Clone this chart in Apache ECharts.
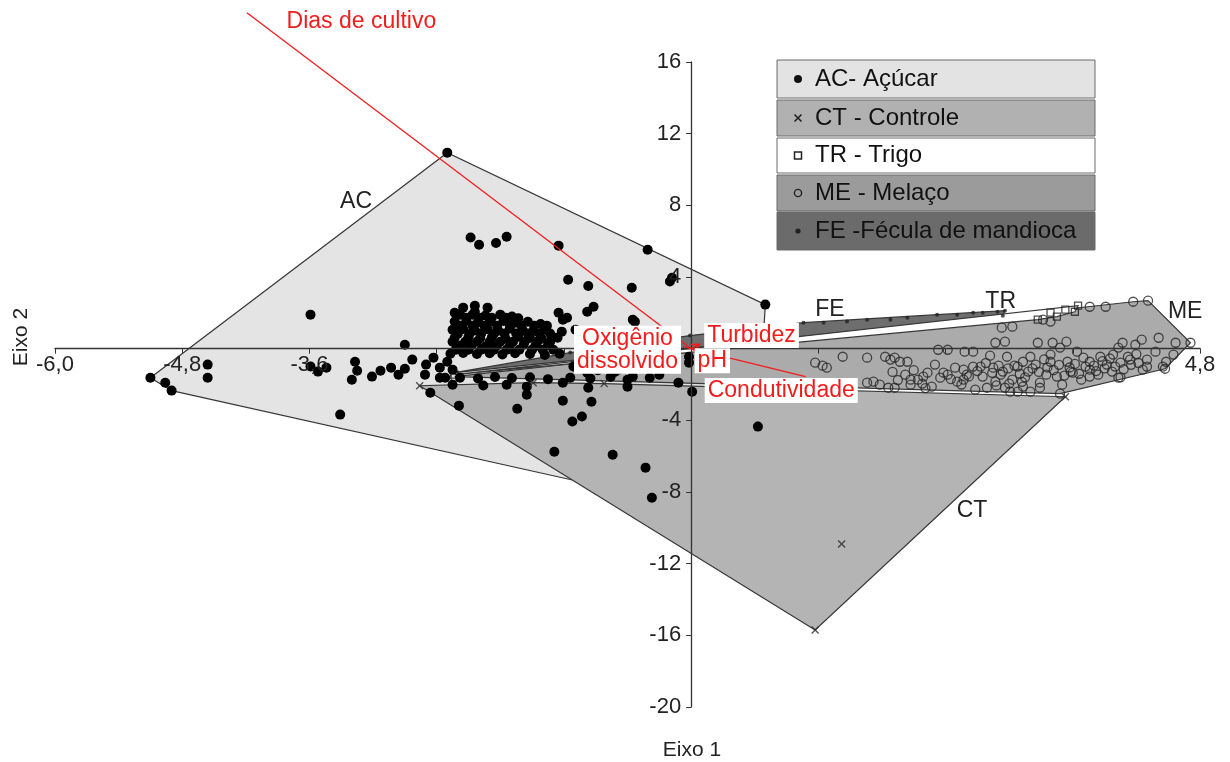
<!DOCTYPE html>
<html><head><meta charset="utf-8">
<script src="https://cdn.jsdelivr.net/npm/echarts@6/dist/echarts.min.js"></script>
<style>html,body{margin:0;padding:0;background:#fff}#c{width:1230px;height:762px}</style>
</head><body><div id="c"></div>
<script>
// ---------------- DATA ----------------
const groupNames = ['AC- Açúcar', 'CT - Controle', 'TR - Trigo', 'ME - Melaço', 'FE -Fécula de mandioca'];
const hullNames = ['AC', 'CT', 'TR', 'ME', 'FE'];
const xTickLabels = ['-6,0', '-4,8', '-3,6', '4,8'];
const yTickLabels = ['16', '12', '8', '4', '-4', '-8', '-12', '-16', '-20'];

const AC = [
  [-5.10,-1.62],[-4.96,-1.90],[-4.90,-2.34],[-4.56,-0.89],[-4.56,-1.62],
  [-2.30,10.94],[-2.08,6.20],[-2.00,5.80],[-1.84,5.90],[-1.74,6.25],[-1.25,5.75],[-0.41,5.52],
  [-0.18,3.96],[-0.20,3.75],[-1.16,3.85],[-0.97,3.50],[-0.56,3.40],
  [0.70,2.46],[-3.59,1.90],[-2.23,2.00],[-2.04,2.06],[-1.25,2.00],[-0.98,2.06],[-0.92,2.34],[-0.53,1.50],[-0.55,1.62],[-1.17,1.73],[-1.26,0.61],[-1.22,0.95],[-2.70,0.22],
  [-1.21,1.62],[-1.09,1.06],[-0.99,0.61],
  [0.63,-4.35],[-0.37,-8.32],[-0.43,-6.64],[-0.74,-5.92],[-1.29,-5.75],[-1.12,-4.07],[-1.03,-3.79],[-0.94,-2.96],[-1.21,-2.90],[-1.55,-2.57],[-1.64,-3.35],[-2.19,-3.18],[-2.46,-2.46],[-3.31,-3.68],[0.01,-2.40],
  [-3.59,-1.00],[-3.52,-1.28],[-3.44,-1.06],[-3.20,-1.73],[-3.17,-0.73],[-3.15,-1.23],[-3.01,-1.56],[-2.93,-1.23],[-2.83,-1.06],[-2.76,-1.45],[-2.70,-1.12],[-2.63,-0.61],[-2.51,-1.45],[-2.43,-0.50],[-2.37,-1.06],[-2.32,-1.62],[-2.50,-0.89],[-2.37,-1.62],[-2.25,-2.01],
  [-2.15,2.29],[-1.92,2.29],[-2.04,2.40],
  [-2.18,1.90],[-2.06,1.90],[-1.94,1.85],[-1.80,1.90],[-1.69,1.80],
  [-2.12,1.73],[-2.00,1.73],[-1.88,1.73],[-1.75,1.73],[-1.63,1.70],
  [-2.23,1.51],[-2.12,1.55],[-2.01,1.48],[-1.90,1.51],[-1.77,1.55],[-1.66,1.45],[-1.54,1.50],[-1.42,1.38],
  [-2.18,1.28],[-2.06,1.28],[-1.95,1.28],[-1.83,1.28],[-1.71,1.28],[-1.60,1.28],[-1.48,1.28],[-1.36,1.28],
  [-2.25,1.06],[-2.15,1.10],[-2.04,1.02],[-1.92,1.08],[-1.82,1.00],[-1.71,1.12],[-1.59,1.04],[-1.49,0.98],[-1.38,1.06],
  [-2.20,0.84],[-2.09,0.84],[-1.98,0.84],[-1.86,0.84],[-1.76,0.84],[-1.65,0.84],[-1.54,0.84],[-1.43,0.84],[-1.33,0.84],
  [-2.23,0.61],[-2.10,0.65],[-1.99,0.58],[-1.88,0.62],[-1.75,0.55],[-1.63,0.66],[-1.52,0.60],[-1.41,0.55],[-1.30,0.62],
  [-2.25,0.39],[-2.13,0.39],[-2.02,0.39],[-1.90,0.39],[-1.80,0.39],[-1.68,0.39],[-1.57,0.39],[-1.45,0.39],[-1.33,0.39],
  [-2.18,0.17],[-2.07,0.20],[-1.94,0.12],[-1.83,0.18],[-1.71,0.15],[-1.58,0.22],[-1.47,0.14],[-1.35,0.20],
  [-2.22,-0.06],[-2.10,-0.06],[-1.98,-0.06],[-1.86,-0.06],[-1.74,-0.06],[-1.62,-0.06],[-1.50,-0.06],[-1.40,-0.06],[-1.30,-0.06],
  [-2.27,-0.28],[-2.15,-0.24],[-2.02,-0.30],[-1.90,-0.26],[-1.78,-0.32],[-1.66,-0.25],[-1.52,-0.30],[-1.38,-0.35],[-1.24,-0.28],
  [-2.30,-0.73],[-1.05,-0.78],[-0.92,-0.70],
  [-2.25,-1.17],[-0.88,-1.20],[-0.72,-1.30],
  [-2.18,-1.62],[-2.01,-1.66],[-1.85,-1.58],[-1.69,-1.64],[-1.52,-1.60],[-1.35,-1.70],[-1.14,-1.62],[-0.95,-1.66],[-0.76,-1.58],[-0.39,-1.62],
  [-1.96,-2.06],[-1.74,-2.01],[-1.55,-2.12],[-1.21,-1.90],[-0.97,-2.18],[-0.60,-2.12],
  [-0.60,-1.73],[-0.55,-1.56],[-0.69,-1.17],[-0.86,-1.00],[-0.98,-1.34],[-1.11,-1.00],[-0.30,-1.45],[-0.12,-1.90],[-0.02,-0.78],[-0.02,-0.45]
];
const CT = [[-2.56,-2.07],[-1.49,-1.90],[-0.82,-1.95],[3.53,-2.68],[1.17,-15.70],[1.42,-10.90]];
const TR = [[-2.23,-1.45],[3.65,2.40],[3.62,2.06],[3.53,2.18],[3.45,1.79],[3.39,2.01],[3.27,1.62]];
const ME = [
  [-2.23,-1.56],[3.48,-2.51],[4.47,-1.12],[4.71,0.33],[4.31,2.68],[3.91,2.34],
  [1.17,-0.78],[1.24,-0.95],[1.28,-1.06],[1.43,-0.45],[1.66,-0.50],[1.83,-0.45],[1.88,-0.61],[1.92,-0.50],[1.97,-0.73],[2.04,-0.73],
  [2.33,-0.06],[2.42,-0.06],[2.58,-0.17],[2.66,-0.17],[2.82,-0.39],
  [2.93,1.17],[2.87,0.33],[2.96,0.39],[3.03,1.23],[3.27,0.33],[3.32,1.62],[3.39,1.51],[3.41,0.33],
  [3.76,2.34],[4.17,2.62],[4.07,0.33],[4.19,0.22],[4.25,0.50],[4.41,0.61],[4.57,0.33],
  [1.66,-1.90],[1.72,-1.84],[1.86,-2.18],[1.92,-2.18],[2.07,-2.01],[2.07,-1.73],[2.14,-1.73],[2.19,-1.56],[2.23,-1.34],[2.27,-2.12],[2.35,-1.62],[2.38,-1.34],[2.42,-1.45],[2.51,-1.84],[2.57,-1.17],[2.57,-1.73],[2.66,-1.00],[2.68,-2.29],[2.73,-1.00],[2.75,-1.56],[2.79,-2.18],[2.85,-1.06],[2.87,-1.84],[2.94,-1.28],[2.98,-0.45],[3.01,-2.40],[3.08,-1.00],[3.08,-2.40],[3.13,-0.73],[3.13,-2.12],[3.20,-0.45],[3.29,-1.90],[3.29,-2.18],[3.39,-0.33],[3.39,-0.73],[3.45,-1.56],[3.48,0.06],[3.55,-0.73],[3.58,-1.28],[3.60,-1.34],[3.64,-0.17],[3.70,-0.50],[3.76,-0.73],[3.76,-1.17],[3.76,-1.56],[3.86,-0.45],[3.92,-0.89],[3.98,-0.33],[4.05,-0.78],[4.05,-1.60],[4.12,-0.45],[4.14,-0.61],[4.26,-1.17],[4.30,-0.61],[4.30,-1.00],[4.45,-1.00],
  [2.92,-1.45],[3.03,-1.73],[3.18,-1.28],[3.25,-0.89],[3.35,-1.45],[3.50,-2.01],[3.68,-1.73],[3.84,-1.45],[3.97,-1.28],[4.03,-1.62],[2.49,-1.06],[2.30,-0.89],[2.21,-2.20],[2.02,-1.45],[1.78,-2.01],[2.96,-2.18],[3.54,0.39],[4.03,0.06],[4.38,-0.17],[4.55,-0.33],[4.48,-0.73],[3.20,-2.40],
  [3.05,-0.95],[3.10,-1.40],[3.15,-1.60],[3.22,-1.10],[3.28,-1.30],[3.33,-0.60],[3.36,-1.05],[3.42,-1.20],[3.47,-0.90],[3.52,-1.50],[3.57,-1.05],[3.62,-0.85],[3.66,-1.40],[3.72,-1.00],[3.80,-0.95],[3.82,-1.25],[3.88,-0.70],[3.90,-1.10],[3.95,-0.55],[4.00,-1.00],[4.08,-1.15],[4.15,-0.90],[4.20,-0.30],[4.22,-0.80],
  [2.60,-1.45],[2.70,-1.25],[2.78,-0.80],[2.84,-1.35],[2.90,-0.95],[2.99,-1.10],[2.45,-1.70],[2.55,-2.00],[2.62,-1.55],[2.88,-2.05],[3.00,-1.95],[3.12,-1.85],[2.10,-1.20],[2.18,-1.95],[1.95,-1.75],[1.90,-1.30]
];
const FE = [[-2.23,-1.34],[-1.14,-0.22],[-0.01,0.73],[1.06,1.45],[1.25,1.45],[1.47,1.51],[1.66,1.62],[1.88,1.62],[2.04,1.73],[2.32,1.90],[2.51,1.90],[2.66,2.01],[2.75,2.01],[2.89,2.06],[2.96,2.12],[2.94,1.84]];

const vectorNames = ['Dias de cultivo', 'Turbidez', 'pH', 'Oxigênio\ndissolvido', 'Condutividade'];
const vectorX = [-4.19, 0.08, 0.05, -0.07, 1.08];
const vectorY = [18.75, 0.25, -0.15, 0.12, -1.56];

// ---------------- LAYOUT / STYLE ----------------
const FONT = '"Liberation Sans", Arial, Helvetica, sans-serif';
const RED = '#f31c1c';
const vectorLabelAt = [[-3.11,18.25],[0.57,0.73],[0.20,-0.67],[-0.60,-0.06],[0.85,-2.34]];
const vectorArrow = [false, true, false, false, false];
const hullLabelAt = {AC:[-3.16,8.20], CT:[2.65,-9.04], FE:[1.31,2.18], TR:[2.92,2.62], ME:[4.66,2.06]};
const hullFill = {AC:'#e4e4e4', CT:'#b4b4b4', ME:'#ababab', FE:'#6e6e6e', TR:'#ffffff'};
const legendTop = [60, 100, 138, 175, 212];
const legendH = [38, 36, 35, 36, 38];
const legendFill = ['#e3e3e3', '#b1b1b1', '#ffffff', '#9b9b9b', '#6b6b6b'];

function convexHull(pts) {
  const p = pts.slice().sort((a, b) => a[0] - b[0] || a[1] - b[1]);
  const cross = (o, a, b) => (a[0]-o[0])*(b[1]-o[1]) - (a[1]-o[1])*(b[0]-o[0]);
  const lower = [];
  for (const q of p) { while (lower.length >= 2 && cross(lower[lower.length-2], lower[lower.length-1], q) <= 0) lower.pop(); lower.push(q); }
  const upper = [];
  for (let i = p.length - 1; i >= 0; i--) { const q = p[i]; while (upper.length >= 2 && cross(upper[upper.length-2], upper[upper.length-1], q) <= 0) upper.pop(); upper.push(q); }
  upper.pop(); lower.pop();
  return lower.concat(upper);
}

function hullSeries(key, pts) {
  const hull = convexHull(pts);
  return {
    type: 'custom', name: key + ' hull', z: 1, silent: true, data: hull,
    renderItem: (params, api) => {
      if (params.dataIndex !== 0) return null;
      const points = hull.map(p => api.coord(p));
      const lp = api.coord(hullLabelAt[key]);
      return { type: 'group', children: [
        { type: 'polygon', shape: { points }, style: { fill: hullFill[key], stroke: '#383838', lineWidth: 1.2 } },
        { type: 'text', x: lp[0], y: lp[1], style: { text: key, fill: '#222', font: '23px ' + FONT, align: 'center', verticalAlign: 'middle' } }
      ]};
    }
  };
}

const xPath = 'path://M0,1.2L1.2,0L5,3.8L8.8,0L10,1.2L6.2,5L10,8.8L8.8,10L5,6.2L1.2,10L0,8.8L3.8,5Z';

const series = [
  hullSeries('AC', AC), hullSeries('CT', CT), hullSeries('ME', ME), hullSeries('FE', FE), hullSeries('TR', TR),
  { type: 'scatter', name: groupNames[3], z: 2, data: ME, symbol: 'circle', symbolSize: 9,
    itemStyle: { color: 'rgba(0,0,0,0)', borderColor: '#262626', borderWidth: 1.3 } },
  { type: 'scatter', name: groupNames[2], z: 2, data: TR, symbol: 'rect', symbolSize: 7,
    itemStyle: { color: 'rgba(0,0,0,0)', borderColor: '#222', borderWidth: 1.3 } },
  { type: 'scatter', name: groupNames[4], z: 2, data: FE, symbol: 'circle', symbolSize: 4,
    itemStyle: { color: '#222' } },
  { type: 'scatter', name: groupNames[0], z: 2, data: AC, symbol: 'circle', symbolSize: 10,
    itemStyle: { color: '#000000', opacity: 1 } },
  { type: 'scatter', name: groupNames[1], z: 2, data: CT, symbol: xPath, symbolSize: 8,
    itemStyle: { color: '#2a2a2a' } },
  { type: 'custom', name: 'vectors', z: 4, silent: true,
    data: vectorX.map((x, i) => [x, vectorY[i]]),
    renderItem: (params, api) => {
      const o = api.coord([0, 0]);
      const e = api.coord([api.value(0), api.value(1)]);
      const children = [{ type: 'line', shape: { x1: o[0], y1: o[1], x2: e[0], y2: e[1] }, style: { stroke: RED, lineWidth: 1.3 } }];
      if (vectorArrow[params.dataIndex]) {
        const dx = e[0]-o[0], dy = e[1]-o[1], L = Math.hypot(dx, dy) || 1;
        const ux = dx/L, uy = dy/L, s = 8;
        children.push({ type: 'polyline', shape: { points: [
          [e[0]-s*ux - s*0.5*uy, e[1]-s*uy + s*0.5*ux], [e[0], e[1]], [e[0]-s*ux + s*0.5*uy, e[1]-s*uy - s*0.5*ux]
        ] }, style: { stroke: RED, lineWidth: 1.5, fill: null } });
      }
      return { type: 'group', children };
    } },
  { type: 'custom', name: 'vector labels', z: 5, silent: true, data: vectorLabelAt,
    renderItem: (params, api) => {
      const p = api.coord([api.value(0), api.value(1)]);
      const i = params.dataIndex;
      return { type: 'text', x: p[0], y: p[1], style: {
        text: vectorNames[i], fill: RED, font: '23px ' + FONT, align: 'center', verticalAlign: 'middle',
        lineHeight: 23, backgroundColor: i === 0 ? 'transparent' : '#ffffff', padding: [1, 3]
      } };
    } }
];

// legend drawn as graphic rows
const legendGraphics = [];
groupNames.forEach((name, i) => {
  const cy = legendTop[i] + legendH[i] / 2;
  legendGraphics.push({ type: 'rect', z: 10, shape: { x: 777, y: legendTop[i], width: 318, height: legendH[i] },
    style: { fill: legendFill[i], stroke: '#6a6a6a', lineWidth: 1 } });
  if (i === 0) legendGraphics.push({ type: 'circle', z: 11, shape: { cx: 798, cy, r: 4 }, style: { fill: '#111' } });
  else if (i === 1) {
    legendGraphics.push({ type: 'line', z: 11, shape: { x1: 794.5, y1: cy-3.5, x2: 801.5, y2: cy+3.5 }, style: { stroke: '#222', lineWidth: 1.6 } });
    legendGraphics.push({ type: 'line', z: 11, shape: { x1: 794.5, y1: cy+3.5, x2: 801.5, y2: cy-3.5 }, style: { stroke: '#222', lineWidth: 1.6 } });
  }
  else if (i === 2) legendGraphics.push({ type: 'rect', z: 11, shape: { x: 794.5, y: cy-3.5, width: 7, height: 7 }, style: { fill: '#fff', stroke: '#222', lineWidth: 1.5 } });
  else if (i === 3) legendGraphics.push({ type: 'circle', z: 11, shape: { cx: 798, cy, r: 3.6 }, style: { fill: 'none', stroke: '#222', lineWidth: 1.4 } });
  else legendGraphics.push({ type: 'circle', z: 11, shape: { cx: 798, cy, r: 2.6 }, style: { fill: '#222' } });
  legendGraphics.push({ type: 'text', z: 11, x: 815, y: cy, style: { text: name, font: '24px ' + FONT, fill: '#111', verticalAlign: 'middle' } });
});
legendGraphics.push({ type: 'text', z: 11, x: 692, y: 750, style: { text: 'Eixo 1', font: '21px ' + FONT, fill: '#222', align: 'center', verticalAlign: 'middle' } });
legendGraphics.push({ type: 'text', z: 11, x: 21, y: 337, rotation: Math.PI / 2, style: { text: 'Eixo 2', font: '21px ' + FONT, fill: '#222', align: 'center', verticalAlign: 'middle' } });

const chart = echarts.init(document.getElementById('c'), null, { renderer: 'canvas' });
chart.setOption({
  animation: false,
  backgroundColor: '#ffffff',
  textStyle: { fontFamily: FONT },
  grid: { left: 55, right: 30, top: 62, bottom: 55, containLabel: false },
  xAxis: {
    type: 'value', min: -6, max: 4.8, interval: 1.2, z: 3, position: 'bottom', offset: 0,
    axisLine: { onZero: false, lineStyle: { color: '#333', width: 1.3 } },
    axisTick: { show: true, length: 5, lineStyle: { color: '#333' } },
    axisLabel: { fontSize: 22, color: '#222', margin: 5, fontFamily: FONT,
      formatter: v => { const s = v.toFixed(1).replace('.', ','); return xTickLabels.includes(s) ? s : ''; } },
    splitLine: { show: false }
  },
  yAxis: {
    type: 'value', min: -20, max: 16, interval: 4, z: 3, position: 'left', offset: 0,
    axisLine: { onZero: false, lineStyle: { color: '#333', width: 1.3 } },
    axisTick: { show: true, length: 5, lineStyle: { color: '#333' } },
    axisLabel: { fontSize: 22, color: '#222', margin: 10, fontFamily: FONT,
      formatter: v => { const s = String(Math.round(v)); return yTickLabels.includes(s) ? s : ''; } },
    splitLine: { show: false }
  },
  graphic: legendGraphics,
  series
});
// move both axes so that they cross at the origin (0,0), labels included
const p0 = chart.convertToPixel({ gridIndex: 0 }, [0, 0]);
const bl = chart.convertToPixel({ gridIndex: 0 }, [-6, -20]);
chart.setOption({ xAxis: { offset: p0[1] - bl[1] }, yAxis: { offset: bl[0] - p0[0] } });
</script></body></html>
